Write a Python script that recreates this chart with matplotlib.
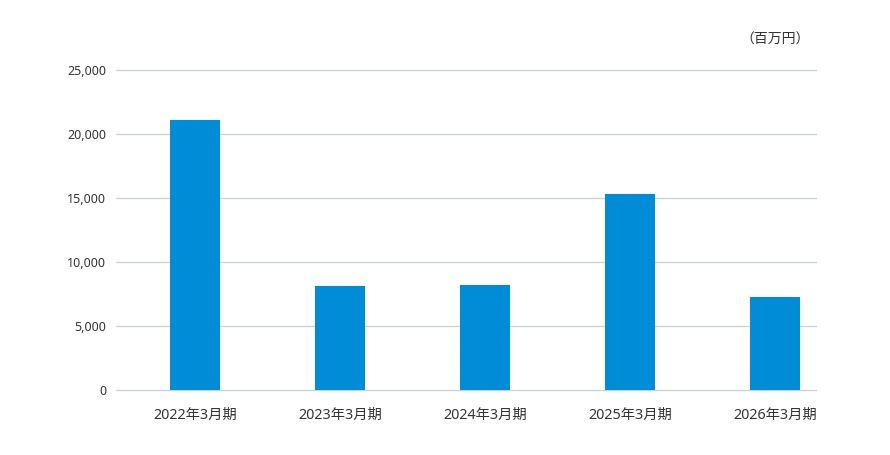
import matplotlib
matplotlib.use("Agg")
import matplotlib.pyplot as plt
import numpy as np

plt.rcParams['font.family'] = ['Noto Sans', 'Noto Sans CJK JP', 'DejaVu Sans']

# data (million yen)
periods = ["2022年3月期", "2023年3月期", "2024年3月期", "2025年3月期", "2026年3月期"]
values = [21120, 8150, 8230, 15330, 7290]
yticks = [0, 5000, 10000, 15000, 20000, 25000]

W, H = 890, 455
fig = plt.figure(figsize=(W / 100, H / 100), dpi=100)
left, right, top, bottom = 116, 816, 70.3, 390.3
ax = fig.add_axes([left / W, 1 - bottom / H, (right - left) / W, (bottom - top) / H])

x = np.arange(len(periods))
ax.bar(x, values, width=50 / 145, color="#008cd6", zorder=3)

ax.set_ylim(0, 25000)
ax.set_xlim(-79 / 145, 4 + 41 / 145)
ax.set_yticks(yticks)
ax.set_yticklabels([f"{v:,}" for v in yticks], fontsize=9, color="#333333")
ax.set_xticks(x)
ax.set_xticklabels(periods, fontsize=10.3, color="#333333")
ax.tick_params(axis="y", length=0, pad=7)
ax.tick_params(axis="x", length=0, pad=13)
for v in yticks:
    ax.axhline(v, color="#c9d2d9", linewidth=1, zorder=0, clip_on=False)
for s in ax.spines.values():
    s.set_visible(False)

fig.text(810 / W, 1 - 40 / H, "（百万円）", ha="right", va="center",
         fontsize=10, color="#333333")

fig.savefig("out.png", dpi=100)
